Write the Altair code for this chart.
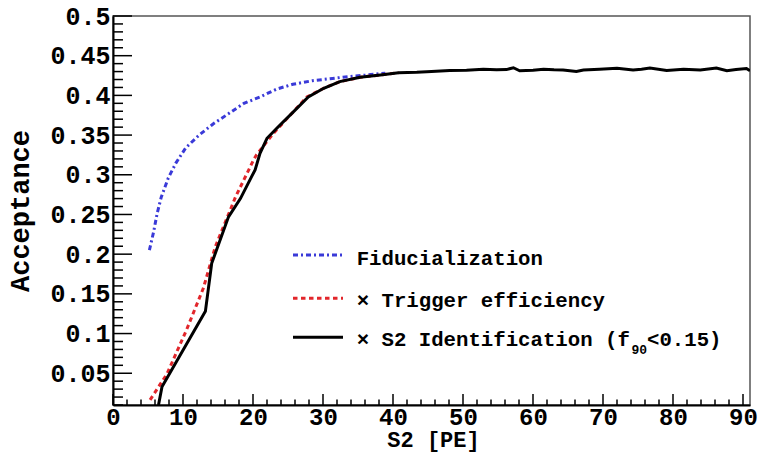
import altair as alt
import pandas as pd

# ---------------- data ----------------
fid_x = [5.2, 5.8, 6.3, 6.9, 7.9, 9.0, 10.4, 12.3, 14.3, 16.5, 18.7, 21.0, 23.4, 25.7, 28.5, 31.0, 33.6, 36.3, 38.9]
fid_y = [0.205, 0.228, 0.251, 0.272, 0.296, 0.315, 0.334, 0.350, 0.364, 0.377, 0.390, 0.398, 0.408, 0.414, 0.4185, 0.421, 0.4236, 0.4257, 0.428]

trig_x = [5.3, 7.7, 10.5, 12.9, 14.6, 17.5, 20.1, 20.5, 22.9, 25.3, 27.7, 30.1, 32.4, 35.3, 38.2, 40.8]
trig_y = [0.0165, 0.049, 0.1045, 0.157, 0.209, 0.272, 0.319, 0.325, 0.352, 0.375, 0.398, 0.409, 0.4173, 0.4228, 0.4257, 0.4286]

s2_x = [6.5, 7.0, 13.2, 14.1, 16.5, 18.2, 19.8, 20.3, 21.0, 22.0, 23.4, 25.8, 27.9, 30.1, 32.4, 35.3, 38.2, 40.8,
        43.4, 45.5, 48.1, 50.5, 52.9, 54.8, 56.2, 57.2, 58.1, 60.0, 61.5, 63.0, 64.3, 66.2, 67.2, 69.5, 72.0, 74.3,
        75.5, 76.7, 79.1, 81.5, 83.9, 86.2, 87.7, 89.0, 90.5, 91.0]
s2_y = [0.010, 0.033, 0.128, 0.1885, 0.247, 0.270, 0.2976, 0.306, 0.327, 0.346, 0.3586, 0.3795, 0.398, 0.409, 0.4173, 0.4228, 0.4257, 0.4286,
        0.4290, 0.4300, 0.4312, 0.4318, 0.4329, 0.4322, 0.4325, 0.4348, 0.4310, 0.4318, 0.4329, 0.4322, 0.4320, 0.4300, 0.4320, 0.4330, 0.4341, 0.4320,
        0.4330, 0.4345, 0.4315, 0.4329, 0.4320, 0.4345, 0.4312, 0.4325, 0.4338, 0.4310]

x_major = [0, 10, 20, 30, 40, 50, 60, 70, 80, 90]
x_minor = [v for v in range(2, 91, 2) if v % 10 != 0]
y_major = [0.05, 0.1, 0.15, 0.2, 0.25, 0.3, 0.35, 0.4, 0.45, 0.5]
y_minor = [round(v / 100, 2) for v in range(1, 50) if v % 5 != 0]

legend_labels = ["Fiducialization", "\u00d7 Trigger efficiency", "\u00d7 S2 Identification (f"]
legend_sub = ["90", "<0.15)"]

# ---------------- chart ----------------
FONT = "Liberation Mono"
W, H = 637, 389
xs = alt.Scale(domain=[0, 91], nice=False, zero=False)
ys = alt.Scale(domain=[0.01, 0.5], nice=False, zero=False)

x_axis = alt.Axis(values=x_major, format="d", ticks=False, tickSize=0, grid=False,
                  domainColor="black", domainWidth=2, labelFont=FONT, labelFontWeight="bold",
                  labelFontSize=24, labelColor="black", labelBaseline="middle", labelPadding=12,
                  labelFlush=False, labelOverlap=False,
                  title="S2 [PE]", titleFont=FONT, titleFontWeight="bold", titleFontSize=22,
                  titleColor="black", titleX=320, titleY=34, titleBaseline="middle", titleAlign="center")
y_axis = alt.Axis(values=y_major, format=".2~f", ticks=False, tickSize=0, grid=False,
                  domainColor="black", domainWidth=2, labelFont=FONT, labelFontWeight="bold",
                  labelFontSize=25, labelColor="black", labelBaseline="middle", labelAlign="right",
                  labelPadding=3, labelFlush=False, labelOverlap=False,
                  title="Acceptance", titleFont=FONT, titleFontWeight="bold", titleFontSize=27,
                  titleColor="black", titleX=-93, titleY=194.5, titleAngle=-90,
                  titleBaseline="middle", titleAlign="center")

df_fid = pd.DataFrame({"x": fid_x, "y": fid_y})
df_trig = pd.DataFrame({"x": trig_x, "y": trig_y})
df_s2 = pd.DataFrame({"x": s2_x, "y": s2_y})

BLUE = "#3a3ad8"
RED = "#e2262b"

fid = alt.Chart(df_fid).mark_line(color=BLUE, strokeWidth=3, strokeDash=[5, 3, 2, 3], clip=True).encode(
    x=alt.X("x:Q", scale=xs, axis=x_axis), y=alt.Y("y:Q", scale=ys, axis=y_axis))
trig = alt.Chart(df_trig).mark_line(color=RED, strokeWidth=3, strokeDash=[4.5, 3.5], clip=True).encode(
    x=alt.X("x:Q", scale=xs), y=alt.Y("y:Q", scale=ys))
s2 = alt.Chart(df_s2).mark_line(color="black", strokeWidth=3, clip=True).encode(
    x=alt.X("x:Q", scale=xs), y=alt.Y("y:Q", scale=ys))

# inward ROOT-style ticks
xmaj = alt.Chart(pd.DataFrame({"v": x_major})).mark_rule(color="black", strokeWidth=1.5).encode(
    x=alt.X("v:Q", scale=xs), y=alt.value(H), y2=alt.value(H - 11))
xmin = alt.Chart(pd.DataFrame({"v": x_minor})).mark_rule(color="black", strokeWidth=1.5).encode(
    x=alt.X("v:Q", scale=xs), y=alt.value(H), y2=alt.value(H - 5.5))
ymaj = alt.Chart(pd.DataFrame({"v": y_major})).mark_rule(color="black", strokeWidth=1.5).encode(
    y=alt.Y("v:Q", scale=ys), x=alt.value(0), x2=alt.value(19))
ymin = alt.Chart(pd.DataFrame({"v": y_minor})).mark_rule(color="black", strokeWidth=1.5).encode(
    y=alt.Y("v:Q", scale=ys), x=alt.value(0), x2=alt.value(10))

# manual legend
def leg_line(color, dash, ypix):
    kw = dict(color=color, strokeWidth=3)
    if dash:
        kw["strokeDash"] = dash
    return alt.Chart(pd.DataFrame({"k": [0]})).mark_rule(**kw).encode(
        x=alt.value(180), x2=alt.value(230), y=alt.value(ypix))

def leg_text(label, xpix, ypix, size=20.7):
    return alt.Chart(pd.DataFrame({"label": [label]})).mark_text(
        align="left", baseline="middle", font=FONT, fontWeight="bold", fontSize=size, color="black"
    ).encode(text="label:N", x=alt.value(xpix), y=alt.value(ypix))

legend = [
    leg_line(BLUE, [5, 3, 2, 3], 239), leg_text(legend_labels[0], 243.7, 243),
    leg_line(RED, [4.5, 3.5], 282.3), leg_text(legend_labels[1], 243.7, 285),
    leg_line("black", None, 321.3), leg_text(legend_labels[2], 243.7, 324),
    leg_text(legend_sub[0], 518.5, 334, size=13), leg_text(legend_sub[1], 534, 324),
]

chart = alt.layer(fid, trig, s2, xmaj, xmin, ymaj, ymin, *legend).properties(
    width=W, height=H,
    padding={"left": 113, "top": 16, "right": 11, "bottom": 47},
    autosize=alt.AutoSizeParams(type="none"),
    background="white",
).configure_view(stroke="#555555", strokeWidth=1.5)

chart.save("out.html", embed_options={"renderer": "svg", "actions": False})
